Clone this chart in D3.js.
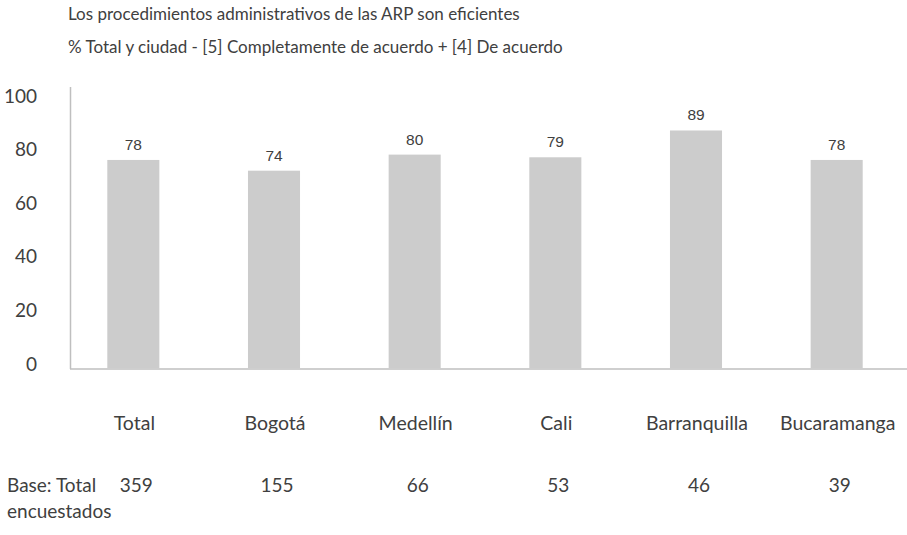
<!DOCTYPE html>
<html>
<head>
<meta charset="utf-8">
<script src="https://cdn.jsdelivr.net/npm/d3@7"></script>
<style>
  html, body { margin: 0; padding: 0; background: #fff; }
  svg { display: block; }
  .lbl { font-family: Lato, "Open Sans", sans-serif; fill: #404040; }
  .val { font-family: "Liberation Sans", Arial, sans-serif; fill: #404040; }
</style>
</head>
<body>
<script>
// Survey results by city
const categories = ["Total", "Bogotá", "Medellín", "Cali", "Barranquilla", "Bucaramanga"];
const values = [78, 74, 80, 79, 89, 78];
const bases = [359, 155, 66, 53, 46, 39];
const yTicks = [0, 20, 40, 60, 80, 100];
const titleLines = [
  "Los procedimientos administrativos de las ARP son eficientes",
  "% Total y ciudad - [5] Completamente de acuerdo + [4] De acuerdo"
];
const baseLabel = ["Base: Total", "encuestados"];

const W = 907, H = 535;
const svg = d3.select("body").append("svg").attr("width", W).attr("height", H);

const x = d3.scaleBand().domain(categories).range([63, 907])
  .paddingInner(0.63).paddingOuter(0.315);
const y = d3.scaleLinear().domain([0, 100]).range([369, 101]);

// Titles
svg.selectAll("text.title").data(titleLines).join("text")
  .attr("class", "title lbl")
  .attr("x", 68).attr("y", (d, i) => 20 + i * 33)
  .style("font-size", "17px")
  .text(d => d);

// Y axis (labels only, plus a plain axis line)
const yAxis = d3.axisLeft(y).tickValues(yTicks).tickSize(0).tickPadding(0);
const gy = svg.append("g").attr("transform", "translate(37,-5)").call(yAxis);
gy.select(".domain").remove();
gy.selectAll("text").attr("class", "lbl").attr("font-family", null)
  .style("font-size", "19px");

svg.append("line").attr("x1", 70.5).attr("x2", 70.5)
  .attr("y1", 87).attr("y2", 369)
  .attr("stroke", "#bfbfbf").attr("stroke-width", 1.5);
svg.append("line").attr("x1", 70).attr("x2", 907)
  .attr("y1", 369).attr("y2", 369)
  .attr("stroke", "#bfbfbf").attr("stroke-width", 1.5);

// Bars
svg.selectAll("rect.bar").data(values).join("rect")
  .attr("class", "bar")
  .attr("x", (d, i) => x(categories[i]))
  .attr("width", x.bandwidth())
  .attr("y", d => y(d))
  .attr("height", d => y(0) - y(d) - 0.75)
  .attr("fill", "#cccccc");

// Value labels
svg.selectAll("text.v").data(values).join("text")
  .attr("class", "v val")
  .attr("x", (d, i) => x(categories[i]) + x.bandwidth() / 2)
  .attr("y", d => y(d) - 10)
  .attr("text-anchor", "middle")
  .style("font-size", "15.5px")
  .text(d => d);

// Category labels
const xAxis = d3.axisBottom(x).tickSize(0).tickPadding(0);
const gx = svg.append("g").attr("transform", "translate(1,416)").call(xAxis);
gx.select(".domain").remove();
gx.selectAll("text").attr("class", "lbl").attr("font-family", null)
  .style("font-size", "19.5px");

// Base counts row
svg.selectAll("text.b").data(bases).join("text")
  .attr("class", "b lbl")
  .attr("x", (d, i) => x(categories[i]) + x.bandwidth() / 2 + 3)
  .attr("y", 492)
  .attr("text-anchor", "middle")
  .style("font-size", "19px")
  .text(d => d);

svg.selectAll("text.bl").data(baseLabel).join("text")
  .attr("class", "bl lbl")
  .attr("x", 7).attr("y", (d, i) => 492 + i * 26)
  .style("font-size", "19px")
  .text(d => d);
</script>
</body>
</html>
